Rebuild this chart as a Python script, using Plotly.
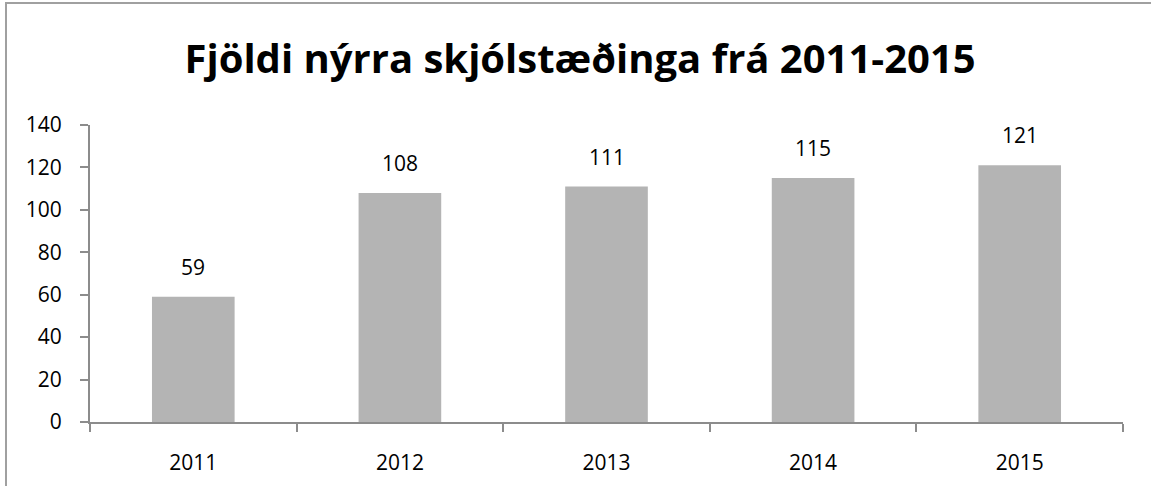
import plotly.graph_objects as go

years = ["2011", "2012", "2013", "2014", "2015"]
values = [59, 108, 111, 115, 121]
y_ticks = [0, 20, 40, 60, 80, 100, 120, 140]
title_text = "Fjöldi nýrra skjólstæðinga frá 2011-2015"

W, H = 1151, 486
ml, mr, mt, mb = 90, 28, 125, 64

fig = go.Figure()
fig.add_trace(go.Bar(
    x=years, y=values,
    marker=dict(color="#b4b4b4", line=dict(width=0)),
    hoverinfo="skip",
))

# data labels (category index positions derived from the data order)
for i, v in enumerate(values):
    fig.add_annotation(x=i, y=v, text=str(v), showarrow=False,
                       yanchor="bottom", yshift=14,
                       font=dict(family="Open Sans", size=21, color="#000000"))

# outer chart frame
pw = W - ml - mr
ph = H - mt - mb
fig.add_shape(type="rect", xref="paper", yref="paper",
              x0=(6 - ml) / pw, x1=(W + 20 - ml) / pw,
              y0=-(H + 20 - (H - mb)) / ph, y1=(H - mb - 3) / ph,
              line=dict(color="#a0a0a0", width=2), fillcolor="rgba(0,0,0,0)",
              layer="below")

fig.update_layout(
    width=W, height=H,
    margin=dict(l=ml, r=mr, t=mt, b=mb, autoexpand=False),
    paper_bgcolor="white", plot_bgcolor="white",
    bargap=0.6,
    showlegend=False,
    title=dict(text="<b>" + title_text + "</b>", x=0.504, xanchor="center",
               y=1 - 59 / H, yanchor="middle", yref="container",
               font=dict(family="Open Sans", size=40, color="#000000")),
    font=dict(family="Open Sans", size=21, color="#000000"),
)
fig.update_xaxes(
    type="category", showline=True, linecolor="#8c8c8c", linewidth=2,
    ticks="outside", ticklen=8, tickcolor="#8c8c8c", tickwidth=2,
    tickson="boundaries", showgrid=False, zeroline=False,
    tickfont=dict(family="Open Sans", size=21, color="#000000"),
    ticklabelstandoff=21, tickangle=0,
)
fig.update_yaxes(
    range=[0, 140], tickvals=y_ticks, showline=True, linecolor="#8c8c8c",
    linewidth=2, ticks="outside", ticklen=8, tickcolor="#8c8c8c", tickwidth=2,
    showgrid=False, zeroline=False,
    tickfont=dict(family="Open Sans", size=21, color="#000000"),
    ticklabelstandoff=14,
)

fig.write_html("out.html",
               config={"displayModeBar": False},
               post_script="document.body.style.margin='0';document.body.style.overflow='hidden';")
